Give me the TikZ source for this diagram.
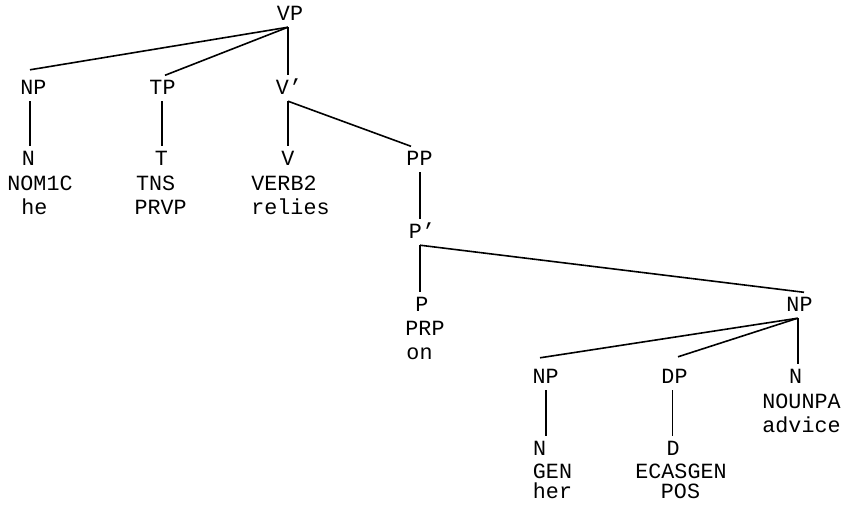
\documentclass[tikz,border=0pt]{standalone}
\usepackage{fontspec}
\setmonofont{Liberation Mono}
\begin{document}
\begin{tikzpicture}[x=1pt,y=-1pt,
  every node/.style={font=\fontsize{21.7}{24}\ttfamily, text=black},
  cat/.style={anchor=base, inner xsep=2pt, inner ysep=6.5pt, text height=12.5pt, text depth=0pt},
  word/.style={anchor=base, inner sep=0pt, text depth=0pt},
  branch/.style={line width=1.6pt, black}]
\useasboundingbox (0,0) rectangle (842,505);
% category labels
\node[cat] (vp)  at (290,20.5)  {VP};
\node[cat] (np1) at (33.5,94.5) {NP};
\node[cat] (tp)  at (162.5,94.5) {TP};
\node[cat] (vb)  at (289,94.5)  {V’};
\node[cat] (n1)  at (28.5,165.5) {N};
\node[cat] (t)   at (161.5,165.5) {T};
\node[cat] (v)   at (288,165.5) {V};
\node[cat] (pp)  at (419.5,165.5) {PP};
\node[cat] (pb)  at (422,238.5) {P’};
\node[cat] (p)   at (422,311.5) {P};
\node[cat] (np2) at (799.5,311.5) {NP};
\node[cat] (np3) at (545.7,383.5) {NP};
\node[cat] (dp)  at (674.5,383.5) {DP};
\node[cat] (n3)  at (795.5,383.5) {N};
\node[cat] (n4)  at (539.7,455.5) {N};
\node[cat] (d)   at (673,455.5) {D};
% words
\node[word] (w1a) at (40,190.5) {NOM1C};
\node[word] (w1b) at (34.5,214.5) {he};
\node[word] (w2a) at (155.7,190.5) {TNS};
\node[word] (w2b) at (160.7,214.5) {PRVP};
\node[word] (w3a) at (284,190.5) {VERB2};
\node[word] (w3b) at (290.5,214.5) {relies};
\node[word] (w4a) at (425,335) {PRP};
\node[word] (w4b) at (419.5,359.5) {on};
\node[word] (w5a) at (801.5,408) {NOUNPA};
\node[word] (w5b) at (801.5,432) {advice};
\node[word] (w6a) at (552.5,478) {GEN};
\node[word] (w6b) at (552.5,498.5) {her};
\node[word] (w7a) at (681,478) {ECASGEN};
\node[word] (w7b) at (680.5,498.5) {POS};
% branches
\draw[branch] ([xshift=-2pt]vp.south) -- ([xshift=-3.5pt,yshift=5.5pt]np1.north);
\draw[branch] ([xshift=-2pt]vp.south) -- ([xshift=2.5pt]tp.north);
\draw[branch] ([xshift=-2pt]vp.south) -- ([xshift=-1pt]vb.north);
\draw[branch] ([xshift=-3.5pt]np1.south) -- ([xshift=1.5pt]n1.north);
\draw[branch] ([xshift=-0.5pt]tp.south) -- ([xshift=0.5pt]t.north);
\draw[branch] ([xshift=-1pt]vb.south) -- (v.north);
\draw[branch] ([xshift=-1pt]vb.south) -- ([xshift=-8.5pt]pp.north);
\draw[branch] ([xshift=0.5pt]pp.south) -- ([xshift=-2pt]pb.north);
\draw[branch] ([xshift=-2pt]pb.south) -- ([xshift=-2pt]p.north);
\draw[branch] ([xshift=-2pt]pb.south) -- ([xshift=4.5pt]np2.north);
\draw[branch] ([xshift=-1.8pt]np2.south) -- ([xshift=-5.7pt,yshift=6.5pt]np3.north);
\draw[branch] ([xshift=-1.8pt]np2.south) -- ([xshift=3.5pt,yshift=7.5pt]dp.north);
\draw[branch] ([xshift=-1.8pt]np2.south) -- ([xshift=2.2pt]n3.north);
\draw[branch] (np3.south) -- ([xshift=6pt]n4.north);
\draw[branch] ([xshift=-2.2pt]dp.south) -- ([xshift=-0.7pt]d.north);
\end{tikzpicture}
\end{document}
